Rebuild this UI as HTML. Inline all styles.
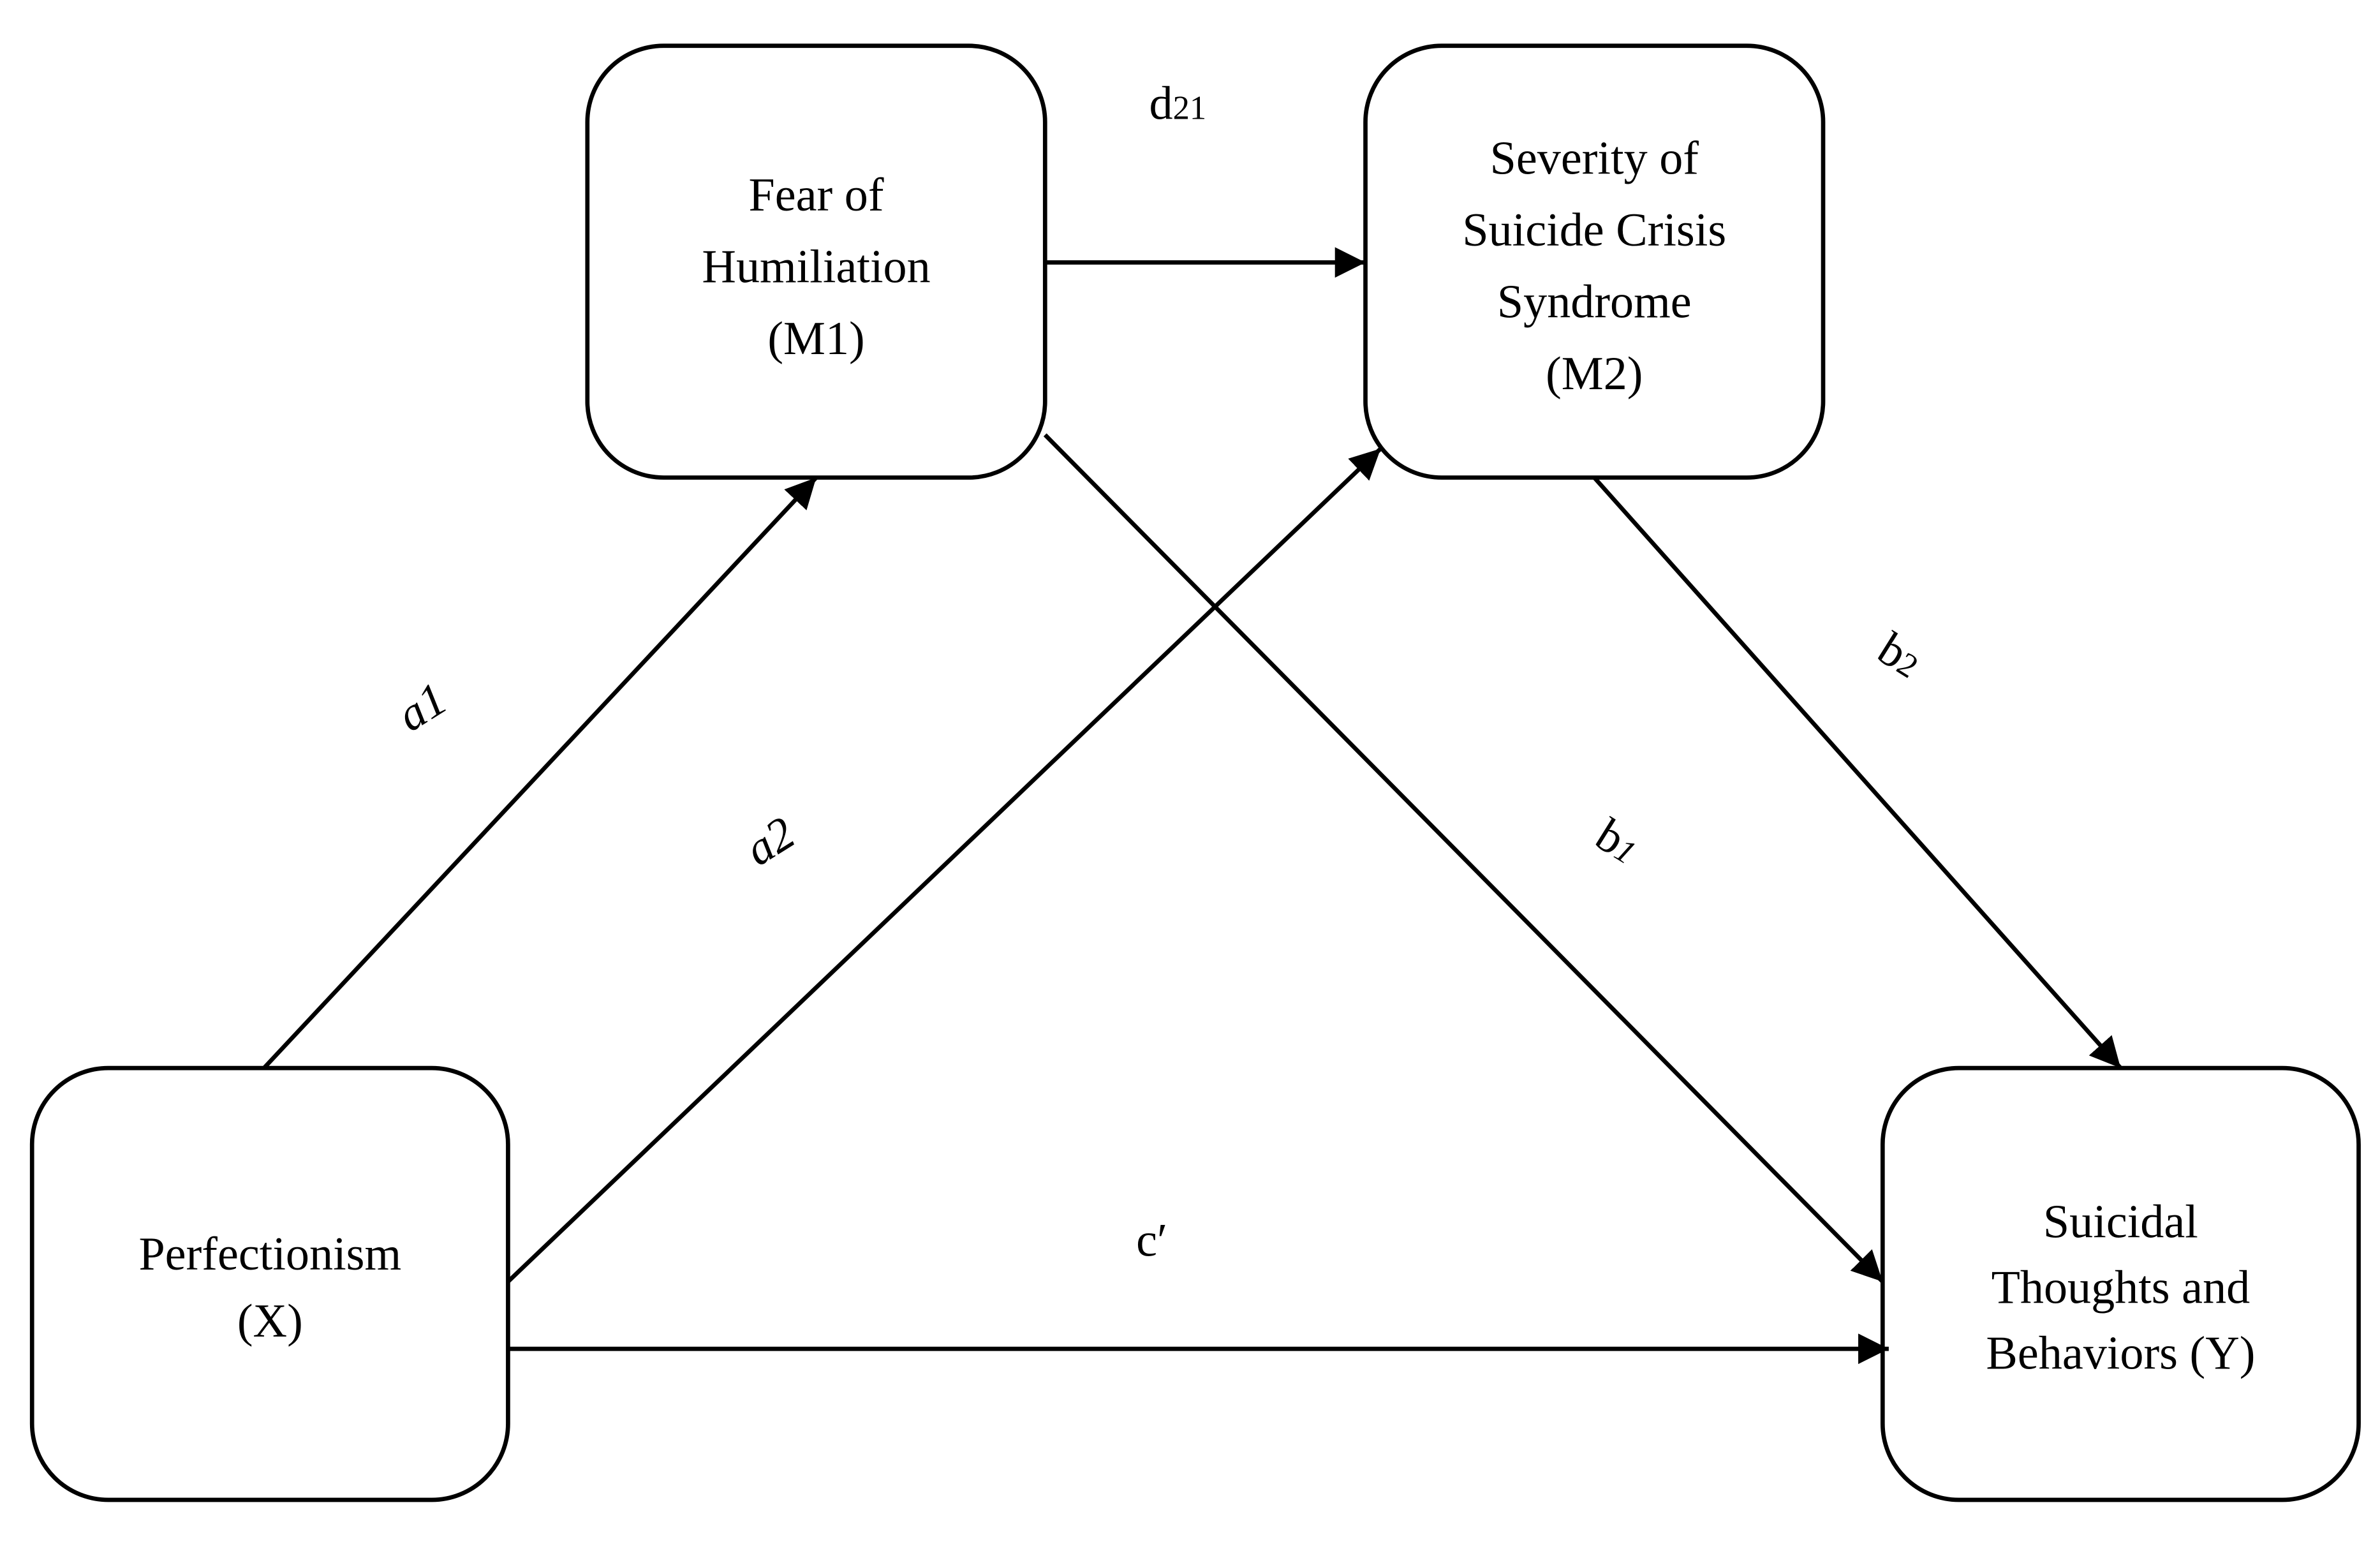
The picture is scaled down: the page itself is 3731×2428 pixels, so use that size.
<!DOCTYPE html>
<html><head><meta charset="utf-8"><style>
html,body{margin:0;padding:0;background:#fff;}
svg{display:block;}
text{font-family:"Liberation Serif",serif;fill:#000;}
</style></head><body>
<svg width="3731" height="2428" viewBox="0 0 1560 1015.2" preserveAspectRatio="none" xmlns="http://www.w3.org/2000/svg">
<defs>
<marker id="ah" markerWidth="8" markerHeight="8" refX="7" refY="4" orient="auto" markerUnits="userSpaceOnUse" viewBox="0 0 8 8">
</marker>
<marker id="a" viewBox="0 0 10 10" refX="10" refY="5" markerWidth="20" markerHeight="20" markerUnits="userSpaceOnUse" orient="auto">
<path d="M0,0 L10,5 L0,10 z" fill="#000"/>
</marker>
</defs>
<g fill="#fff" stroke="#000" stroke-width="2.8">
<rect x="385" y="30" width="300" height="283" rx="50"/>
<rect x="895" y="30" width="300" height="283" rx="50"/>
<rect x="21" y="700" width="312" height="283" rx="50"/>
<rect x="1234" y="700" width="312" height="283" rx="50"/>
</g>
<g stroke="#000" stroke-width="2.8" fill="none" marker-end="url(#a)">
<line x1="685" y1="172" x2="895" y2="172"/>
<line x1="173" y1="700" x2="535" y2="313"/>
<line x1="333" y1="840" x2="905" y2="294"/>
<line x1="685" y1="285" x2="1234" y2="840"/>
<line x1="1045" y1="313" x2="1390" y2="700"/>
<line x1="333" y1="884" x2="1238" y2="884"/>
</g>
<g font-size="31" text-anchor="middle">
<text x="535" y="138">Fear of</text>
<text x="535" y="185">Humiliation</text>
<text x="535" y="232">(M1)</text>
<text x="1045" y="114">Severity of</text>
<text x="1045" y="161">Suicide Crisis</text>
<text x="1045" y="208">Syndrome</text>
<text x="1045" y="255">(M2)</text>
<text x="177" y="832">Perfectionism</text>
<text x="177" y="876">(X)</text>
<text x="1390" y="811">Suicidal</text>
<text x="1390" y="854">Thoughts and</text>
<text x="1390" y="897">Behaviors (Y)</text>
</g>
<g font-size="31" text-anchor="middle">
<text x="772" y="78">d<tspan font-size="22">21</tspan></text>
<text x="755" y="823">c′</text>
<text transform="translate(282,472) rotate(-32)" font-style="italic">a1</text>
<text transform="translate(510,560) rotate(-32)" font-style="italic">a2</text>
<text transform="translate(1055,560) rotate(32)">b<tspan font-size="22" font-style="italic">1</tspan></text>
<text transform="translate(1240,438) rotate(32)">b<tspan font-size="22">2</tspan></text>
</g>
</svg>
</body></html>
